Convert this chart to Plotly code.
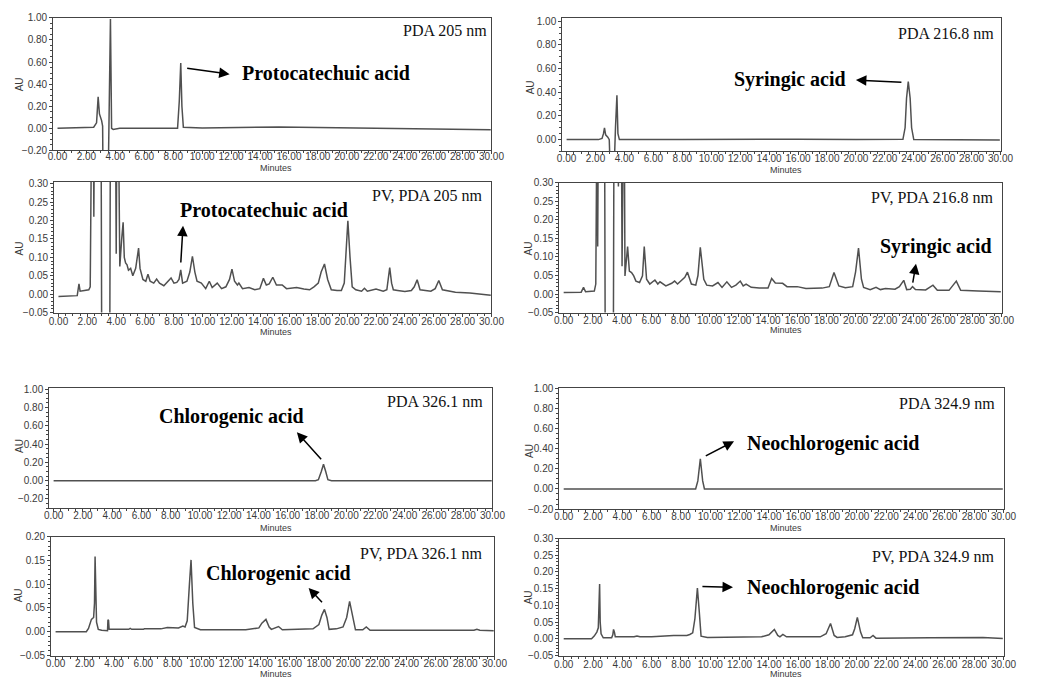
import plotly.graph_objects as go

# ---------------- data (minutes, AU) ----------------
P1_TIME = [0.0, 2.3, 2.5, 2.7, 2.81, 2.9, 3.05, 3.12, 3.15, 3.5, 3.58, 3.66, 3.74, 3.85, 4.3,
           8.3, 8.42, 8.52, 8.6, 8.7, 10.0, 12.0, 15.3, 18.0, 20.0, 23.4, 26.0, 29.95]
P1_AU = [0.0, 0.003, 0.01, 0.05, 0.285, 0.13, 0.07, 0.02, -0.5, -0.5, 0.3, 0.99, 0.0, -0.01, 0.0,
         0.0, 0.25, 0.59, 0.2, 0.01, 0.002, 0.005, 0.012, 0.008, 0.005, 0.0, -0.005, -0.012]

P2_TIME = [0.0, 0.8, 1.3, 1.42, 1.5, 1.8, 2.1, 2.2, 2.3, 2.42, 2.45, 2.5, 2.95, 3.0, 3.55, 3.6,
           3.95, 4.0, 4.05, 4.15, 4.25, 4.38, 4.48, 4.56, 4.65, 4.75, 4.85, 5.0, 5.15, 5.35, 5.45,
           5.55, 5.65, 5.85, 6.05, 6.2, 6.35, 6.6, 6.8, 7.0, 7.3, 7.6, 7.8, 8.0, 8.2, 8.35, 8.47,
           8.6, 8.9, 9.1, 9.28, 9.45, 9.6, 9.9, 10.2, 10.45, 10.65, 11.0, 11.3, 11.6, 11.85, 12.02,
           12.2, 12.4, 12.5, 12.75, 13.2, 13.6, 13.95, 14.2, 14.4, 14.6, 14.85, 15.1, 15.5, 15.8,
           16.5, 17.0, 17.4, 17.7, 18.0, 18.2, 18.43, 18.65, 18.9, 19.3, 19.6, 19.8, 19.95, 20.05,
           20.2, 20.35, 20.6, 21.0, 21.2, 21.4, 22.0, 22.5, 22.75, 22.85, 22.95, 23.08, 23.2, 23.5,
           24.0, 24.45, 24.65, 24.85, 25.05, 25.8, 26.1, 26.35, 26.6, 27.5, 28.5, 29.95]
P2_AU = [-0.006, -0.004, -0.004, 0.028, 0.008, 0.01, 0.012, 0.02, 0.5, 0.5, 0.21, 0.5, 0.5, -0.2,
         -0.2, 0.5, 0.5, 0.11, 0.5, 0.5, 0.075, 0.15, 0.195, 0.1, 0.085, 0.08, 0.065, 0.07, 0.05,
         0.07, 0.1, 0.125, 0.07, 0.04, 0.035, 0.054, 0.035, 0.03, 0.041, 0.03, 0.023, 0.035, 0.044,
         0.03, 0.032, 0.04, 0.066, 0.03, 0.035, 0.06, 0.103, 0.06, 0.035, 0.03, 0.015, 0.035, 0.018,
         0.03, 0.015, 0.02, 0.04, 0.068, 0.035, 0.025, 0.03, 0.015, 0.018, 0.012, 0.015, 0.043,
         0.025, 0.028, 0.046, 0.025, 0.025, 0.015, 0.018, 0.014, 0.012, 0.02, 0.03, 0.06, 0.082,
         0.04, 0.012, 0.01, 0.01, 0.03, 0.12, 0.199, 0.1, 0.02, 0.012, 0.008, 0.016, 0.008, 0.014,
         0.008, 0.012, 0.04, 0.072, 0.03, 0.012, 0.01, 0.007, 0.01, 0.02, 0.039, 0.012, 0.008,
         0.015, 0.037, 0.012, 0.005, 0.003, -0.003]

P3_TIME = [0.0, 2.2, 2.45, 2.55, 2.62, 2.7, 2.85, 2.95, 3.0, 3.3, 3.38, 3.48, 3.55, 3.65, 8.0,
           14.5, 16.0, 20.0, 23.25, 23.4, 23.5, 23.62, 23.75, 23.85, 24.0, 27.0, 29.95]
P3_AU = [0.0, 0.0, 0.01, 0.05, 0.1, 0.04, 0.02, 0.0, -0.2, -0.2, 0.1, 0.375, 0.05, 0.0, 0.0,
         0.005, 0.004, 0.0, 0.002, 0.1, 0.35, 0.49, 0.35, 0.1, 0.0, -0.002, -0.003]

P4_TIME = [0.0, 1.2, 1.36, 1.5, 2.1, 2.2, 2.28, 2.33, 2.38, 2.8, 2.85, 3.4, 3.45, 3.7, 3.75, 3.8,
           3.95, 4.0, 4.1, 4.15, 4.2, 4.38, 4.5, 4.65, 4.8, 4.95, 5.2, 5.4, 5.52, 5.68, 5.9, 6.25,
           6.45, 6.6, 7.0, 7.4, 7.6, 7.8, 8.0, 8.3, 8.48, 8.75, 9.05, 9.2, 9.36, 9.6, 9.8, 10.2,
           10.57, 10.85, 11.18, 11.5, 11.8, 12.1, 12.3, 12.5, 12.85, 13.4, 14.0, 14.25, 14.5, 14.8,
           15.0, 15.3, 16.0, 16.6, 17.7, 18.2, 18.52, 18.85, 19.3, 19.8, 20.0, 20.2, 20.4, 20.55,
           21.0, 21.4, 21.7, 22.05, 22.7, 23.0, 23.3, 23.5, 23.75, 23.9, 24.1, 24.8, 25.3, 25.6,
           26.4, 26.9, 27.2, 28.4, 29.95]
P4_AU = [0.004, 0.005, 0.018, 0.006, 0.008, 0.027, 0.5, 0.128, 0.5, 0.5, -0.2, -0.2, 0.5, 0.5,
         0.29, 0.5, 0.5, 0.075, 0.5, 0.5, 0.049, 0.128, 0.062, 0.058, 0.049, 0.035, 0.031, 0.049,
         0.128, 0.04, 0.027, 0.038, 0.027, 0.033, 0.022, 0.029, 0.035, 0.027, 0.035, 0.045, 0.059,
         0.027, 0.024, 0.05, 0.126, 0.04, 0.024, 0.022, 0.031, 0.018, 0.033, 0.018, 0.024, 0.035,
         0.022, 0.027, 0.018, 0.016, 0.016, 0.042, 0.03, 0.029, 0.029, 0.02, 0.02, 0.015, 0.016,
         0.02, 0.058, 0.022, 0.017, 0.02, 0.06, 0.124, 0.04, 0.018, 0.012, 0.018, 0.012, 0.015,
         0.013, 0.02, 0.037, 0.012, 0.013, 0.02, 0.012, 0.011, 0.024, 0.01, 0.01, 0.035, 0.01,
         0.008, 0.006]

P5_TIME = [0.0, 2.8, 3.0, 17.9, 18.1, 18.3, 18.45, 18.6, 18.75, 19.0, 22.0, 29.95]
P5_AU = [0.0, 0.004, 0.0, 0.0, 0.01, 0.1, 0.18, 0.1, 0.01, 0.0, 0.002, 0.0]

P6_TIME = [0.0, 2.1, 2.25, 2.45, 2.6, 2.66, 2.7, 2.74, 2.8, 2.92, 3.15, 3.55, 3.58, 3.62, 3.66,
           3.85, 5.0, 5.1, 5.2, 6.0, 6.07, 7.2, 7.64, 8.4, 8.7, 8.85, 9.0, 9.15, 9.26, 9.38, 9.5,
           9.9, 12.0, 12.5, 13.0, 13.9, 14.1, 14.38, 14.6, 14.75, 15.0, 15.24, 15.5, 17.6, 18.0,
           18.2, 18.38, 18.55, 18.7, 19.2, 19.65, 19.9, 20.1, 20.3, 20.5, 21.0, 21.24, 21.5, 23.0,
           26.0, 28.6, 28.8, 29.0, 29.95]
P6_AU = [0.0, 0.0, 0.007, 0.026, 0.03, 0.06, 0.158, 0.05, 0.02, 0.005, 0.003, 0.002, 0.025,
         0.024, 0.005, 0.005, 0.005, 0.007, 0.005, 0.005, 0.006, 0.006, 0.009, 0.008, 0.012, 0.01,
         0.023, 0.1, 0.151, 0.06, 0.009, 0.004, 0.004, 0.005, 0.004, 0.008, 0.018, 0.026, 0.01,
         0.005, 0.008, 0.011, 0.004, 0.006, 0.015, 0.035, 0.047, 0.03, 0.005, 0.006, 0.01, 0.03,
         0.064, 0.03, 0.004, 0.004, 0.01, 0.003, 0.003, 0.003, 0.003, 0.005, 0.003, 0.002]

P7_TIME = [0.0, 3.0, 3.2, 9.0, 9.15, 9.32, 9.48, 9.6, 29.95]
P7_AU = [0.0, 0.002, 0.0, 0.0, 0.08, 0.3, 0.08, 0.0, 0.0]

P8_TIME = [0.0, 1.9, 2.08, 2.26, 2.36, 2.41, 2.45, 2.49, 2.55, 2.7, 3.27, 3.35, 3.4, 3.46, 3.52,
           4.8, 5.0, 5.2, 6.0, 7.5, 8.4, 8.6, 8.8, 8.95, 9.12, 9.25, 9.37, 9.8, 12.0, 12.5, 13.5,
           14.0, 14.37, 14.6, 14.75, 14.95, 15.2, 17.5, 17.9, 18.2, 18.45, 18.65, 19.2, 19.7,
           19.85, 20.03, 20.25, 20.4, 20.9, 21.1, 21.3, 25.0, 28.6, 29.95]
P8_AU = [0.0, 0.0, 0.008, 0.02, 0.033, 0.08, 0.164, 0.05, 0.015, 0.003, 0.003, 0.012, 0.028,
         0.02, 0.006, 0.006, 0.008, 0.006, 0.006, 0.01, 0.01, 0.013, 0.018, 0.06, 0.152, 0.08,
         0.008, 0.004, 0.005, 0.006, 0.006, 0.012, 0.028, 0.01, 0.006, 0.013, 0.006, 0.006, 0.015,
         0.046, 0.01, 0.004, 0.006, 0.012, 0.03, 0.064, 0.02, 0.003, 0.003, 0.01, 0.002, 0.003,
         0.004, 0.001]

SERIES = [(P1_TIME, P1_AU), (P2_TIME, P2_AU), (P3_TIME, P3_AU), (P4_TIME, P4_AU),
          (P5_TIME, P5_AU), (P6_TIME, P6_AU), (P7_TIME, P7_AU), (P8_TIME, P8_AU)]

WAVELENGTH_LABELS = ["PDA 205 nm", "PV, PDA 205 nm", "PDA 216.8 nm", "PV, PDA 216.8 nm",
                     "PDA 326.1 nm", "PV, PDA 326.1 nm", "PDA 324.9 nm", "PV, PDA 324.9 nm"]
COMPOUND_LABELS = ["Protocatechuic acid", "Protocatechuic acid", "Syringic acid", "Syringic acid",
                   "Chlorogenic acid", "Chlorogenic acid", "Neochlorogenic acid",
                   "Neochlorogenic acid"]
X_TICKS = [0, 2, 4, 6, 8, 10, 12, 14, 16, 18, 20, 22, 24, 26, 28, 30]

# ---------------- layout (pixel boxes in a 1046 x 690 page) ----------------
W, H = 1046, 690
# left, right, top, bottom
BOXES = [(49, 495, 12, 147), (50, 495, 179, 312), (567, 1013, 12, 148), (564, 1014, 180, 312),
         (45, 496, 389, 511), (47, 498, 540, 661), (564, 1016, 389, 512), (564, 1016, 542, 661)]
Y_RANGES = [(-0.2, 1.0), (-0.05, 0.305), (-0.1, 1.03), (-0.05, 0.30),
            (-0.3, 1.01), (-0.05, 0.20), (-0.2, 1.0), (-0.05, 0.30)]
Y_DTICK = [0.2, 0.05, 0.2, 0.05, 0.2, 0.05, 0.2, 0.05]
Y_MINOR = [0.05, 0.01, 0.05, 0.01, 0.05, 0.01, 0.05, 0.01]
Y_TICK0 = [-0.2, -0.05, 0.0, -0.05, -0.2, -0.05, -0.2, -0.05]
X_LABEL_SHIFT = [-6, -4, -5, -5, -5, -5, -5, -4]
# wavelength label: right edge x, center y (px)
WL_POS = [(492, 25), (488, 193), (1008, 28), (1008, 195), (488, 403), (488, 557), (1009, 405), (1009, 560)]
# compound label: center x, center y (px)
CP_POS = [(327, 68), (264, 208), (799, 75), (947, 245), (230, 418), (278, 578), (842, 445), (842, 592)]
# arrows: tail (t, au) -> head (t, au)
ARROWS = [((8.86, 0.545), (11.9, 0.49)), ((8.47, 0.082), (8.63, 0.186)),
          ((23.25, 0.485), (20.0, 0.504)), ((23.9, 0.027), (24.14, 0.082)),
          ((18.38, 0.217), (16.63, 0.53)), ((18.31, 0.059), (17.3, 0.092)),
          ((9.59, 0.32), (11.62, 0.474)), ((9.36, 0.157), (11.55, 0.154))]
AU_POS = [(15, 80), (15, 247), (535, 83), (533, 247), (14, 448), (14, 600), (533, 453), (533, 602)]
MIN_POS = [(276, 165), (276, 332), (795, 167), (795, 330), (276, 531), (276, 680), (795, 531), (795, 680)]

LINE_COLOR = "#505050"
FRAME_COLOR = "#444444"
TICK_FONT = dict(family="Liberation Sans, Arial", size=10, color="#3a3a3a")

fig = go.Figure()
layout = dict(width=W, height=H, margin=dict(l=0, r=0, t=0, b=0),
              paper_bgcolor="white", plot_bgcolor="white", showlegend=False)
annotations = []

for i, (t, au) in enumerate(SERIES):
    n = i + 1
    sfx = "" if n == 1 else str(n)
    fig.add_trace(go.Scatter(x=t, y=au, mode="lines", xaxis="x" + sfx, yaxis="y" + sfx,
                             line=dict(color=LINE_COLOR, width=1.5), hoverinfo="skip"))
    l, r, tp, bt = BOXES[i]
    layout["xaxis" + sfx] = dict(
        domain=[l / W, r / W], anchor="y" + sfx, range=[-0.3, 30.0],
        tickmode="array", tickvals=X_TICKS, ticktext=[f"{v:.2f}" for v in X_TICKS],
        ticks="outside", ticklen=3, tickcolor=FRAME_COLOR, tickfont=TICK_FONT,
        ticklabelstandoff=X_LABEL_SHIFT[i],
        minor=dict(dtick=0.5, tick0=0, ticks="outside", ticklen=2, tickcolor=FRAME_COLOR),
        showline=True, mirror=True, linecolor=FRAME_COLOR, linewidth=1,
        showgrid=False, zeroline=False)
    layout["yaxis" + sfx] = dict(
        domain=[1 - bt / H, 1 - tp / H], anchor="x" + sfx, range=list(Y_RANGES[i]),
        tickmode="linear", tick0=Y_TICK0[i], dtick=Y_DTICK[i], tickformat=".2f",
        ticks="outside", ticklen=3, tickcolor=FRAME_COLOR, tickfont=TICK_FONT,
        minor=dict(dtick=Y_MINOR[i], ticks="outside", ticklen=2, tickcolor=FRAME_COLOR),
        showline=True, mirror=True, linecolor=FRAME_COLOR, linewidth=1,
        showgrid=False, zeroline=False)

    wx, wy = WL_POS[i]
    annotations.append(dict(x=wx / W, y=1 - wy / H, xref="paper", yref="paper",
                            xanchor="right", yanchor="middle", showarrow=False,
                            text=WAVELENGTH_LABELS[i],
                            font=dict(family="Liberation Serif, Times New Roman", size=16, color="#111")))
    cx, cy = CP_POS[i]
    annotations.append(dict(x=cx / W, y=1 - cy / H, xref="paper", yref="paper",
                            xanchor="center", yanchor="middle", showarrow=False,
                            text="<b>" + COMPOUND_LABELS[i] + "</b>",
                            font=dict(family="Liberation Serif, Times New Roman", size=20, color="#000")))
    (tx, ty), (hx, hy) = ARROWS[i]
    annotations.append(dict(x=hx, y=hy, ax=tx, ay=ty, xref="x" + sfx, yref="y" + sfx,
                            axref="x" + sfx, ayref="y" + sfx, text="", showarrow=True,
                            arrowhead=2, arrowsize=1.4, arrowwidth=1.5, arrowcolor="#000"))
    ax_, ay_ = AU_POS[i]
    annotations.append(dict(x=ax_ / W, y=1 - ay_ / H, xref="paper", yref="paper",
                            xanchor="center", yanchor="middle", showarrow=False, textangle=-90,
                            text="AU", font=dict(family="Liberation Sans, Arial", size=10, color="#3a3a3a")))
    mx, my = MIN_POS[i]
    annotations.append(dict(x=mx / W, y=1 - my / H, xref="paper", yref="paper",
                            xanchor="center", yanchor="middle", showarrow=False,
                            text="Minutes", font=dict(family="Liberation Sans, Arial", size=9, color="#3a3a3a")))

layout["annotations"] = annotations
fig.update_layout(**layout)
fig.write_html("out.html")
